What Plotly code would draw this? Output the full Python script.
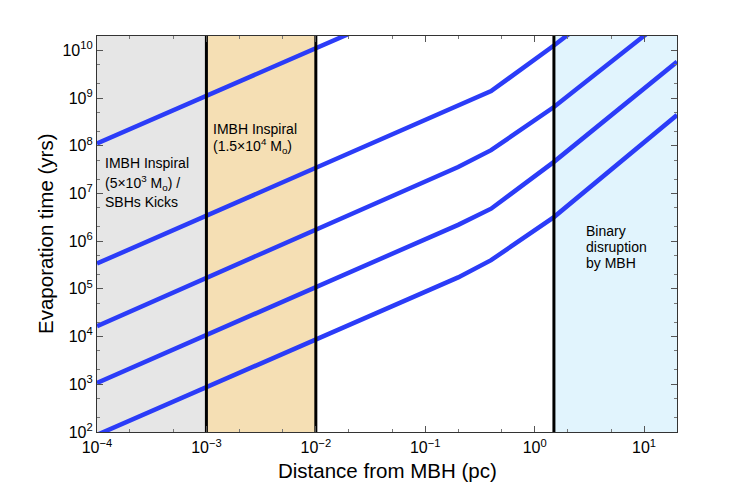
import plotly.graph_objects as go

# ---- data ----
distance_pc = [1e-4, 0.2, 0.4, 1.5, 20]
t_evap_1 = [1.12e8, 2.2e11, 5.0e11, 5.0e12, 5.0e14]
t_evap_2 = [3.4e5, 6.8e8, 1.4e9, 1.26e10, 1.26e12]
t_evap_3 = [1.66e4, 3.6e7, 8.1e7, 6.5e8, 7.1e10]
t_evap_4 = [1.07e3, 2.2e6, 4.8e6, 4.6e7, 5.75e9]
t_evap_5 = [87, 1.74e5, 4.0e5, 3.2e6, 4.4e8]

region_gray = [1e-4, 1e-3]
region_orange = [1e-3, 1e-2]
region_blue = [1.5, 20]
boundaries = [1e-3, 1e-2, 1.5]

x_tickvals = [1e-4, 1e-3, 1e-2, 1e-1, 1e0, 1e1]
x_ticktext = ["10<sup>\u22124</sup>", "10<sup>\u22123</sup>", "10<sup>\u22122</sup>",
              "10<sup>\u22121</sup>", "10<sup>0</sup>", "10<sup>1</sup>"]
y_tickvals = [1e2, 1e3, 1e4, 1e5, 1e6, 1e7, 1e8, 1e9, 1e10]
y_ticktext = ["10<sup>%d</sup>" % k for k in range(2, 11)]

FONT = "Liberation Sans, Arial, Helvetica, sans-serif"
BLUE = "#2b3cf8"

fig = go.Figure()

def band(xr, color):
    fig.add_trace(go.Scatter(
        x=[xr[0], xr[1], xr[1], xr[0], xr[0]],
        y=[1e1, 1e1, 1e12, 1e12, 1e1],
        fill="toself", fillcolor=color, mode="lines",
        line=dict(width=0, color=color), hoverinfo="skip", showlegend=False))

band(region_gray, "#e6e6e6")
band(region_orange, "#f5dfb4")
band(region_blue, "#e1f4fd")

for s in [t_evap_1, t_evap_2, t_evap_3, t_evap_4, t_evap_5]:
    fig.add_trace(go.Scatter(x=distance_pc, y=s, mode="lines",
                             line=dict(color=BLUE, width=4.5), showlegend=False))

for b in boundaries:
    fig.add_trace(go.Scatter(x=[b, b], y=[1e1, 1e12], mode="lines",
                             line=dict(color="black", width=3), showlegend=False))

# page body has an 8px default margin: compensate
OFF = 8
W, H = 747 - 2 * OFF, 486 - OFF
L, R, T, B = 97 - OFF, 677 - OFF, 36 - OFF, 432 - OFF
pw, ph = R - L, B - T

def px(x):
    return (x - OFF - L) / pw

def py(y):
    return (B - (y - OFF)) / ph

labels = [
    ("IMBH Inspiral", 103, 163),
    ("(5\u00d710<sup>3</sup> M<sub>o</sub>) /", 103, 183),
    ("SBHs Kicks", 103, 202),
    ("IMBH Inspiral", 211, 129),
    ("(1.5\u00d710<sup>4</sup> M<sub>o</sub>)", 211, 146),
    ("Binary", 584, 231),
    ("disruption", 584, 247),
    ("by MBH", 584, 263),
]
for txt, x, y in labels:
    fig.add_annotation(text=txt, x=px(x), y=py(y), xref="paper", yref="paper",
                       xanchor="left", yanchor="middle", showarrow=False,
                       font=dict(family=FONT, size=14, color="black"))

fig.add_annotation(text="Distance from MBH (pc)", x=px(387), y=py(470),
                   xref="paper", yref="paper", xanchor="center", yanchor="middle",
                   showarrow=False, font=dict(family=FONT, size=20.5, color="black"))
fig.add_annotation(text="Evaporation time (yrs)", x=px(45), y=py(234),
                   xref="paper", yref="paper", xanchor="center", yanchor="middle",
                   textangle=-90, showarrow=False,
                   font=dict(family=FONT, size=20.5, color="black"))

axis_common = dict(
    type="log", showgrid=False, zeroline=False,
    showline=True, linecolor="#333333", linewidth=1.2, mirror="allticks",
    ticks="inside", ticklen=6, tickcolor="#555555", tickwidth=1,
    tickfont=dict(family=FONT, size=16, color="black"),
    minor=dict(ticks="inside", ticklen=3, tickcolor="#777777", showgrid=False),
)

fig.update_xaxes(range=[-4, 1.30103], tickvals=x_tickvals, ticktext=x_ticktext,
                 ticklabelstandoff=1, **axis_common)
fig.update_yaxes(range=[2, 10.30103], tickvals=y_tickvals, ticktext=y_ticktext,
                 **axis_common)

fig.update_layout(
    width=W, height=H,
    margin=dict(l=L, r=W - R, t=T, b=H - B, autoexpand=False),
    plot_bgcolor="white", paper_bgcolor="white",
    font=dict(family=FONT, color="black"),
    showlegend=False,
)

fig.write_html("out.html")
